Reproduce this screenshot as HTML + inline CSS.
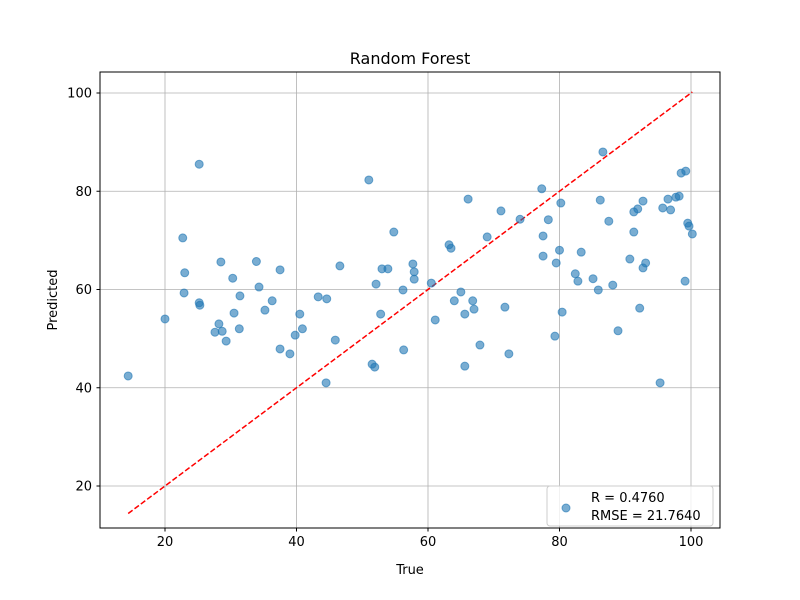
<!DOCTYPE html>
<html><head><meta charset="utf-8"><style>
body{margin:0;background:#fff}
svg{display:block;font-family:"DejaVu Sans","Liberation Sans",sans-serif}
</style></head><body>
<svg id="chart" width="800" height="600">
<rect width="800" height="600" fill="#fff"/>
<g id="grid"></g>
<g id="diag"></g>
<g id="pts"></g>
<rect x="100" y="72" width="620" height="456" fill="none" stroke="#000" stroke-width="1"/>
<g id="ticks"></g>
<text x="410" y="64" text-anchor="middle" font-size="16">Random Forest</text>
<text x="410" y="574" text-anchor="middle" font-size="13">True</text>
<text x="57" y="300" text-anchor="middle" font-size="13" transform="rotate(-90 57 300)">Predicted</text>
<g>
<rect x="547" y="486" width="166" height="40" rx="3" fill="#fff" fill-opacity="0.8" stroke="#ccc"/>
<circle cx="566" cy="508" r="4" fill="#1f77b4" fill-opacity="0.6" stroke="#1f77b4" stroke-opacity="0.6"/>
<text x="591" y="502" font-size="13">R = 0.4760</text>
<text x="591" y="520" font-size="13">RMSE = 21.7640</text>
</g>
</svg>
<script>
const xTicks=[20,40,60,80,100];
const yTicks=[20,40,60,80,100];
const trueVals=[14.4,20,22.7,23,22.9,25.2,25.2,25.3,27.6,28.2,28.5,28.7,29.3,30.3,30.5,31.3,31.4,33.9,34.3,35.2,36.3,37.5,37.5,39,39.8,40.5,40.9,43.3,44.6,44.5,45.9,46.6,51,51.5,51.9,52.1,52.8,53,53.9,54.8,56.2,56.3,57.7,57.9,57.9,60.5,61.1,63.2,63.5,64,65,65.6,65.6,66.1,66.8,67,67.9,69,71.1,71.7,72.3,74,77.3,77.5,77.5,78.3,79.3,79.5,80,80.2,80.4,82.4,82.8,83.3,85.1,85.9,86.2,86.6,87.5,88.1,88.9,90.7,91.3,91.3,91.9,92.2,92.7,92.7,93.1,95.3,95.7,96.5,96.9,97.7,98.2,98.5,99.1,99.2,99.5,99.7,100.2];
const predVals=[42.4,54,70.5,63.4,59.3,85.5,57.3,56.8,51.3,53,65.6,51.5,49.5,62.3,55.2,52,58.7,65.7,60.5,55.8,57.7,64,47.9,46.9,50.7,55,52,58.5,58.1,41,49.7,64.8,82.3,44.8,44.2,61.1,55,64.2,64.2,71.7,59.9,47.7,65.2,63.6,62.1,61.3,53.8,69.1,68.4,57.7,59.5,55,44.4,78.4,57.7,56,48.7,70.7,76,56.4,46.9,74.3,80.5,70.9,66.8,74.2,50.5,65.4,68,77.6,55.4,63.2,61.7,67.6,62.2,59.9,78.2,88,73.9,60.9,51.6,66.2,71.7,75.8,76.4,56.2,78,64.4,65.4,41,76.6,78.4,76.2,78.8,79,83.7,61.7,84.1,73.5,72.9,71.3];
const X=v=>33.5+v*6.575;
const Y=v=>486-(v-20)*4.9125;
const NS='http://www.w3.org/2000/svg';
function mk(tag,attrs,parent){const e=document.createElementNS(NS,tag);for(const k in attrs)e.setAttribute(k,attrs[k]);parent.appendChild(e);return e;}
const grid=document.getElementById('grid'),ticks=document.getElementById('ticks');
xTicks.forEach(t=>{
  const g=mk('line',{x1:X(t),x2:X(t),y1:72,y2:528,stroke:'#b0b0b0','stroke-width':0.8},grid);
  
  
  mk('line',{x1:X(t),x2:X(t),y1:528,y2:531.5,stroke:'#000'},ticks);
  const l=mk('text',{x:X(t),y:546,'text-anchor':'middle','font-size':13},ticks);
  l.textContent=t;
  
  
});
yTicks.forEach(t=>{
  const g=mk('line',{x1:100,x2:720,y1:Y(t),y2:Y(t),stroke:'#b0b0b0','stroke-width':0.8},grid);
  
  
  mk('line',{x1:96.5,x2:100,y1:Y(t),y2:Y(t),stroke:'#000'},ticks);
  const l=mk('text',{x:92,y:Y(t)+4.5,'text-anchor':'end','font-size':13},ticks);
  l.textContent=t;
  
  
});
const mn=Math.min(...trueVals),mx=Math.max(...trueVals);
const d=mk('line',{x1:X(mn),y1:Y(mn),x2:X(mx),y2:Y(mx),stroke:'#ff0000','stroke-width':1.5,'stroke-dasharray':'5.5,2.4'},document.getElementById('diag'));


const pts=document.getElementById('pts');
trueVals.forEach((v,i)=>{
  const c=mk('circle',{cx:X(v),cy:Y(predVals[i]),r:4,fill:'#1f77b4','fill-opacity':0.6,stroke:'#1f77b4','stroke-opacity':0.6},pts);
  
  
});
</script>
</body></html>
